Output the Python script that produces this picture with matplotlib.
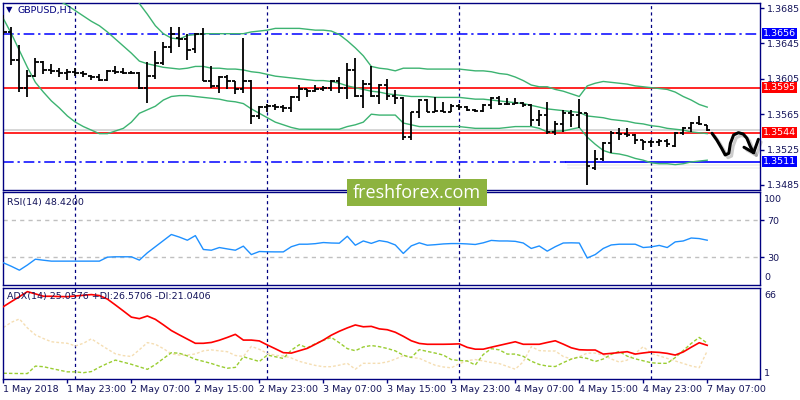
import numpy as np
import matplotlib
matplotlib.use('Agg')
import matplotlib.pyplot as plt
from matplotlib.patches import Rectangle
from matplotlib.transforms import blended_transform_factory
import matplotlib.patheffects as pe

plt.rcParams['font.family'] = ['DejaVu Sans']

# ---- GBPUSD H1, 1 May 15:00 .. 7 May 07:00 (one entry per hourly bar) ----
bar_open = [1.3660, 1.3658, 1.3626, 1.3595, 1.3608, 1.3624, 1.3615, 1.3614, 1.3612, 1.3613,
            1.3612, 1.3608, 1.3607, 1.3604, 1.3614, 1.3613, 1.3612, 1.3612, 1.3595, 1.3608,
            1.3623, 1.3641, 1.3651, 1.3650, 1.3639, 1.3656, 1.3603, 1.3597, 1.3607, 1.3602,
            1.3593, 1.3603, 1.3563, 1.3573, 1.3574, 1.3573, 1.3572, 1.3585, 1.3593, 1.3591,
            1.3594, 1.3595, 1.3602, 1.3595, 1.3615, 1.3586, 1.3599, 1.3586, 1.3598, 1.3586,
            1.3583, 1.3539, 1.3567, 1.3581, 1.3568, 1.3569, 1.3568, 1.3574, 1.3573, 1.3570,
            1.3569, 1.3575, 1.3583, 1.3576, 1.3577, 1.3578, 1.3575, 1.3558, 1.3564, 1.3545,
            1.3554, 1.3566, 1.3564, 1.3566, 1.3504, 1.3514, 1.3532, 1.3544, 1.3543, 1.3541,
            1.3536, 1.3533, 1.3534, 1.3535, 1.3529, 1.3544, 1.3549, 1.3555, 1.3553]
bar_high = [1.3677, 1.3664, 1.3643, 1.3615, 1.3628, 1.3625, 1.3622, 1.3617, 1.3616, 1.3617,
            1.3614, 1.3609, 1.3611, 1.3615, 1.3619, 1.3617, 1.3614, 1.3613, 1.3624, 1.3637,
            1.3647, 1.3664, 1.3664, 1.3656, 1.3657, 1.3663, 1.3619, 1.3608, 1.3609, 1.3603,
            1.3651, 1.3604, 1.3574, 1.3576, 1.3576, 1.3575, 1.3586, 1.3598, 1.3594, 1.3598,
            1.3597, 1.3604, 1.3607, 1.3623, 1.3628, 1.3604, 1.3619, 1.3599, 1.3605, 1.3592,
            1.3585, 1.3568, 1.3582, 1.3582, 1.3584, 1.3579, 1.3576, 1.3576, 1.3574, 1.3571,
            1.3576, 1.3585, 1.3586, 1.3583, 1.3583, 1.3579, 1.3576, 1.3570, 1.3579, 1.3557,
            1.3570, 1.3570, 1.3582, 1.3566, 1.3525, 1.3534, 1.3546, 1.3549, 1.3549, 1.3543,
            1.3536, 1.3536, 1.3537, 1.3537, 1.3545, 1.3550, 1.3556, 1.3563, 1.3553]
bar_low = [1.3654, 1.3621, 1.3590, 1.3585, 1.3607, 1.3610, 1.3610, 1.3607, 1.3604, 1.3608,
           1.3607, 1.3604, 1.3602, 1.3602, 1.3610, 1.3610, 1.3610, 1.3594, 1.3578, 1.3605,
           1.3621, 1.3634, 1.3641, 1.3626, 1.3634, 1.3602, 1.3595, 1.3589, 1.3593, 1.3588,
           1.3589, 1.3554, 1.3559, 1.3567, 1.3570, 1.3568, 1.3567, 1.3580, 1.3585, 1.3590,
           1.3591, 1.3591, 1.3589, 1.3582, 1.3585, 1.3572, 1.3585, 1.3576, 1.3581, 1.3576,
           1.3536, 1.3536, 1.3561, 1.3567, 1.3567, 1.3567, 1.3567, 1.3570, 1.3569, 1.3567,
           1.3567, 1.3571, 1.3575, 1.3575, 1.3576, 1.3573, 1.3552, 1.3552, 1.3543, 1.3541,
           1.3545, 1.3551, 1.3549, 1.3485, 1.3502, 1.3512, 1.3521, 1.3536, 1.3539, 1.3531,
           1.3524, 1.3528, 1.3529, 1.3528, 1.3528, 1.3541, 1.3545, 1.3553, 1.3546]
bar_close = [1.3658, 1.3626, 1.3595, 1.3608, 1.3624, 1.3615, 1.3614, 1.3612, 1.3613, 1.3612,
             1.3610, 1.3607, 1.3604, 1.3614, 1.3613, 1.3612, 1.3612, 1.3595, 1.3608, 1.3623,
             1.3641, 1.3656, 1.3650, 1.3638, 1.3656, 1.3603, 1.3597, 1.3607, 1.3602, 1.3594,
             1.3603, 1.3563, 1.3573, 1.3574, 1.3573, 1.3572, 1.3585, 1.3593, 1.3591, 1.3594,
             1.3595, 1.3602, 1.3595, 1.3615, 1.3586, 1.3599, 1.3586, 1.3598, 1.3586, 1.3583,
             1.3539, 1.3567, 1.3581, 1.3568, 1.3569, 1.3568, 1.3574, 1.3573, 1.3570, 1.3569,
             1.3575, 1.3583, 1.3576, 1.3577, 1.3578, 1.3575, 1.3558, 1.3564, 1.3545, 1.3554,
             1.3566, 1.3564, 1.3566, 1.3506, 1.3514, 1.3532, 1.3544, 1.3543, 1.3541, 1.3536,
             1.3533, 1.3534, 1.3535, 1.3531, 1.3544, 1.3549, 1.3555, 1.3554, 1.3547]

bb_upper = [1.3795, 1.3800, 1.3807, 1.3816, 1.3821, 1.3820, 1.3818, 1.3814, 1.3811, 1.3808,
            1.3801, 1.3793, 1.3787, 1.3773, 1.3754, 1.3735, 1.3712, 1.3690, 1.3678, 1.3665,
            1.3656, 1.3651, 1.3650, 1.3654, 1.3655, 1.3656, 1.3656, 1.3656, 1.3656, 1.3656,
            1.3656, 1.3658, 1.3659, 1.3660, 1.3662, 1.3662, 1.3662, 1.3662, 1.3661, 1.3660,
            1.3660, 1.3659, 1.3655, 1.3648, 1.3640, 1.3631, 1.3619, 1.3617, 1.3616, 1.3614,
            1.3617, 1.3617, 1.3617, 1.3616, 1.3616, 1.3616, 1.3616, 1.3616, 1.3615, 1.3614,
            1.3614, 1.3613, 1.3611, 1.3610, 1.3607, 1.3603, 1.3598, 1.3596, 1.3596, 1.3593,
            1.3591, 1.3588, 1.3585, 1.3597, 1.3600, 1.3602, 1.3601, 1.3600, 1.3599, 1.3597,
            1.3596, 1.3595, 1.3594, 1.3593, 1.3590, 1.3585, 1.3581, 1.3576, 1.3573]
bb_mid = [1.3734, 1.3728, 1.3722, 1.3717, 1.3711, 1.3705, 1.3699, 1.3693, 1.3688, 1.3682,
          1.3676, 1.3670, 1.3665, 1.3658, 1.3650, 1.3642, 1.3634, 1.3625, 1.3622, 1.3620,
          1.3618, 1.3617, 1.3616, 1.3617, 1.3619, 1.3619, 1.3617, 1.3617, 1.3616, 1.3616,
          1.3615, 1.3613, 1.3612, 1.3610, 1.3608, 1.3607, 1.3606, 1.3605, 1.3604, 1.3603,
          1.3603, 1.3602, 1.3600, 1.3597, 1.3595, 1.3593, 1.3591, 1.3590, 1.3588, 1.3587,
          1.3586, 1.3585, 1.3585, 1.3585, 1.3584, 1.3584, 1.3584, 1.3584, 1.3583, 1.3582,
          1.3582, 1.3581, 1.3580, 1.3579, 1.3578, 1.3577, 1.3575, 1.3573, 1.3571, 1.3570,
          1.3569, 1.3568, 1.3567, 1.3563, 1.3562, 1.3561, 1.3559, 1.3558, 1.3557, 1.3555,
          1.3554, 1.3552, 1.3551, 1.3549, 1.3548, 1.3547, 1.3545, 1.3544, 1.3543]
bb_lower = [1.3673, 1.3656, 1.3637, 1.3618, 1.3601, 1.3590, 1.3580, 1.3572, 1.3563, 1.3556,
            1.3551, 1.3547, 1.3543, 1.3543, 1.3546, 1.3549, 1.3556, 1.3566, 1.3570, 1.3574,
            1.3581, 1.3585, 1.3586, 1.3586, 1.3585, 1.3584, 1.3583, 1.3582, 1.3580, 1.3579,
            1.3577, 1.3571, 1.3566, 1.3561, 1.3556, 1.3553, 1.3550, 1.3548, 1.3548, 1.3548,
            1.3548, 1.3548, 1.3548, 1.3551, 1.3553, 1.3556, 1.3565, 1.3564, 1.3564, 1.3564,
            1.3555, 1.3553, 1.3551, 1.3551, 1.3551, 1.3551, 1.3551, 1.3551, 1.3550, 1.3549,
            1.3549, 1.3549, 1.3549, 1.3550, 1.3551, 1.3551, 1.3551, 1.3549, 1.3545, 1.3546,
            1.3546, 1.3548, 1.3550, 1.3539, 1.3531, 1.3524, 1.3521, 1.3520, 1.3518, 1.3515,
            1.3513, 1.3510, 1.3509, 1.3509, 1.3508, 1.3509, 1.3511, 1.3512, 1.3513]

rsi = [24.0, 20.2, 16.0, 21.6, 27.9, 26.8, 25.8, 25.8, 25.8, 25.8,
       25.8, 25.8, 25.8, 30.1, 30.5, 30.5, 30.5, 26.9, 34.8, 41.4,
       48.0, 54.6, 51.8, 48.4, 53.4, 38.4, 37.6, 40.5, 39.0, 37.6,
       42.0, 32.9, 36.2, 35.9, 35.8, 35.8, 41.4, 44.1, 44.1, 44.7,
       45.9, 45.4, 45.2, 52.7, 43.0, 47.6, 45.0, 48.0, 46.6, 43.3,
       34.1, 42.3, 45.6, 43.0, 43.6, 44.4, 44.8, 44.8, 44.4, 43.8,
       45.6, 48.2, 47.6, 47.6, 47.2, 45.4, 39.5, 42.2, 36.6, 41.4,
       45.4, 45.6, 45.4, 29.2, 32.9, 39.5, 43.3, 44.1, 44.1, 44.1,
       40.5, 41.2, 42.8, 40.5, 46.6, 47.6, 50.8, 50.2, 48.42]

adx = [52.7, 56.3, 59.8, 63.4, 61.8, 60.1, 60.1, 59.9, 59.8, 60.3,
       60.8, 61.3, 60.6, 58.1, 53.9, 49.6, 45.2, 44.1, 46.0, 43.6,
       39.7, 35.6, 32.5, 29.5, 26.5, 26.5, 27.1, 28.7, 30.7, 32.9,
       28.8, 28.8, 28.2, 25.3, 22.6, 19.8, 19.5, 21.2, 22.9, 25.8,
       28.8, 32.3, 35.1, 37.5, 39.6, 38.3, 38.6, 36.8, 36.2, 34.4,
       31.5, 28.3, 26.4, 25.8, 25.8, 25.8, 25.9, 26.1, 23.6, 22.3,
       22.3, 23.7, 25.0, 26.3, 27.6, 25.8, 25.8, 25.8, 27.1, 28.3,
       25.9, 23.3, 21.9, 21.7, 21.7, 18.8, 19.3, 19.9, 20.5, 18.8,
       19.6, 20.3, 20.0, 19.3, 18.1, 20.3, 23.7, 26.9, 25.06]
plus_di = [5.1, 5.0, 4.9, 4.9, 10.2, 9.8, 8.5, 7.3, 6.1, 6.1,
           5.5, 6.3, 9.4, 12.1, 14.5, 13.0, 11.5, 9.7, 7.9, 11.3,
           15.6, 19.8, 19.4, 17.5, 15.1, 13.6, 12.1, 10.2, 8.7, 9.3,
           16.9, 15.2, 13.5, 18.1, 16.9, 15.7, 21.6, 25.5, 23.3, 26.2,
           28.6, 30.7, 26.9, 22.7, 21.2, 23.9, 24.9, 24.1, 22.8, 21.1,
           18.0, 16.4, 22.0, 20.7, 19.5, 18.1, 14.9, 14.2, 13.9, 11.0,
           18.5, 22.7, 21.8, 18.8, 18.8, 17.2, 13.7, 11.4, 10.2, 9.9,
           12.7, 15.2, 16.7, 15.7, 13.5, 15.3, 18.6, 20.7, 17.3, 15.4,
           14.0, 12.6, 12.2, 12.2, 16.3, 21.3, 26.4, 30.7, 26.57]
minus_di = [37.8, 41.5, 43.9, 37.5, 32.5, 29.9, 27.6, 27.0, 26.5, 24.6,
            26.5, 29.7, 26.0, 22.4, 19.0, 17.7, 17.1, 21.9, 27.0, 25.8,
            22.7, 19.0, 18.1, 18.1, 18.9, 21.1, 21.8, 21.1, 20.5, 17.8,
            17.1, 24.3, 22.2, 19.3, 17.9, 17.5, 16.0, 13.6, 12.1, 10.7,
            9.8, 9.8, 10.9, 12.2, 8.0, 12.2, 12.2, 12.2, 13.2, 15.2,
            17.7, 16.3, 15.8, 13.2, 10.8, 9.6, 9.0, 11.9, 14.1, 14.9,
            13.9, 12.8, 12.0, 10.0, 8.0, 13.3, 24.1, 21.3, 21.0, 21.0,
            17.1, 15.3, 16.9, 19.5, 19.5, 18.1, 15.3, 13.1, 14.5, 19.3,
            24.1, 19.3, 17.5, 15.7, 13.9, 12.1, 10.3, 9.1, 21.04]

time_labels = ['1 May 2018', '1 May 23:00', '2 May 07:00', '2 May 15:00', '2 May 23:00',
               '3 May 07:00', '3 May 15:00', '3 May 23:00', '4 May 07:00', '4 May 15:00',
               '4 May 23:00', '7 May 07:00']
day_starts = [9, 33, 57, 81]          # bar index of each 00:00
price_ticks = [1.3685, 1.3645, 1.3605, 1.3565, 1.3525, 1.3485]

bid = 1.3547
level_top = 1.3656
level_red = [1.3595, 1.3544]
level_bottom = 1.3511
bottom_line_start = 70.4              # trend line at 1.3511 turns solid here

# hand drawn forecast squiggle (bar index, price)
sketch_x = [88.6, 89.2, 89.8, 90.25, 90.7, 90.9, 91.3, 91.9, 92.5, 92.96, 93.4, 93.8]
sketch_y = [1.35434, 1.35358, 1.35265, 1.35189, 1.35208, 1.35321, 1.35415, 1.35441,
            1.35426, 1.35378, 1.35283, 1.35215]
head_x = [92.6, 93.8, 94.4]
head_y = [1.35276, 1.35215, 1.35366]

navy = '#000080'
txt = '#14145a'
fs = 6.8
W, H = 800, 400


def fpos(left, top, right, bottom):
    return [left / W, 1 - bottom / H, (right - left) / W, (bottom - top) / H]


fig = plt.figure(figsize=(8, 4), dpi=100)
ax = fig.add_axes(fpos(3, 3, 760, 190))
ax_rsi = fig.add_axes(fpos(3, 192.5, 760, 285))
ax_adx = fig.add_axes(fpos(3, 288, 760, 379))

x = np.arange(len(bar_open))
xlo, xhi = -0.05, 94.6

for a in (ax, ax_rsi, ax_adx):
    a.set_xlim(xlo, xhi)
    for s in a.spines.values():
        s.set_color(navy)
        s.set_linewidth(1.0)
    for d in day_starts:
        a.axvline(d, color=navy, lw=0.9, ls=(0, (2.5, 2.5)), zorder=1)
    a.tick_params(axis='x', bottom=False, labelbottom=False)

# ---- price panel ----
ax.set_ylim(1.34793, 1.36907)
ax.axhline(bid, color='#D0D0D0', lw=1.2, zorder=2)
ax.axhline(level_top, color='blue', lw=1.1, ls=(0, (7, 2.5, 1.5, 2.5)), zorder=2)
for lv in level_red:
    ax.axhline(lv, color='red', lw=1.2, zorder=2)
ax.plot([xlo, bottom_line_start], [level_bottom, level_bottom], color='blue', lw=1.1,
        ls=(0, (7, 2.5, 1.5, 2.5)), zorder=2)
ax.plot([bottom_line_start, xhi], [level_bottom, level_bottom], color='blue', lw=1.2, zorder=2,
        path_effects=[pe.SimpleLineShadow(offset=(1, -4), shadow_color='k', alpha=0.05),
                      pe.SimpleLineShadow(offset=(1, -2.5), shadow_color='k', alpha=0.07),
                      pe.Normal()])

for band in (bb_upper, bb_mid, bb_lower):
    ax.plot(x, band, color='#3CB371', lw=1.0, zorder=3)

ax.vlines(x, bar_low, bar_high, color='black', lw=1.3, zorder=5)
ax.hlines(bar_open, x - 0.4, x, color='black', lw=1.3, zorder=5)
ax.hlines(bar_close, x, x + 0.4, color='black', lw=1.3, zorder=5)

shadow = [pe.SimpleLineShadow(offset=(2, -2), shadow_color='k', alpha=0.2), pe.Normal()]
ax.plot(sketch_x, sketch_y, color='black', lw=2.2, solid_capstyle='round',
        solid_joinstyle='round', zorder=6, clip_on=False, path_effects=shadow)
ax.plot(head_x, head_y, color='black', lw=2.2, solid_capstyle='round',
        solid_joinstyle='round', zorder=6, clip_on=False, path_effects=shadow)

ax.yaxis.tick_right()
ax.set_yticks(price_ticks)
ax.set_yticklabels([f'{p:.4f}' for p in price_ticks])
ax.tick_params(axis='y', direction='out', length=3, width=1, color=navy,
               labelcolor=txt, labelsize=fs, pad=2)

tr = blended_transform_factory(fig.transFigure, ax.transData)
y0, y1 = ax.get_ylim()
box_h = (y1 - y0) / 187 * 11
for lv, col in [(level_top, '#0000FF'), (level_red[0], '#FF0000'),
                (level_red[1], '#FF0000'), (level_bottom, '#0000FF')]:
    ax.add_patch(Rectangle((762 / W, lv - box_h / 2), 35 / W, box_h, transform=tr,
                           facecolor=col, edgecolor='none', clip_on=False, zorder=10))
    ax.text(779.5 / W, lv, f'{lv:.4f}', transform=tr, color='white', fontsize=fs,
            ha='center', va='center', clip_on=False, zorder=11)

fig.text(6 / W, 1 - 10 / H, '\u25BC', fontsize=6, color=navy, va='center')
fig.text(18 / W, 1 - 10 / H, 'GBPUSD,H1', fontsize=fs, color=navy, va='center')

# ---- RSI panel ----
ax_rsi.set_ylim(0, 100)
ax_rsi.axhline(70, color='#C0C0C0', lw=1, ls=(0, (3, 3)), zorder=1)
ax_rsi.axhline(30, color='#C0C0C0', lw=1, ls=(0, (3, 3)), zorder=1)
ax_rsi.plot(x, rsi, color='#1E90FF', lw=1.0, zorder=3)
ax_rsi.yaxis.tick_right()
ax_rsi.set_yticks([70, 30])
ax_rsi.set_yticklabels(['70', '30'])
ax_rsi.tick_params(axis='y', direction='out', length=3, width=1, color=navy,
                   labelcolor=txt, labelsize=fs, pad=2)
fig.text(764 / W, 1 - 199 / H, '100', fontsize=fs, color=txt, va='center')
fig.text(764 / W, 1 - 278 / H, '0', fontsize=fs, color=txt, va='center')
fig.text(7 / W, 1 - 202 / H, 'RSI(14) 48.4200', fontsize=fs, color=txt, va='center')

# ---- ADX panel ----
ax_adx.set_ylim(1, 66)
ax_adx.plot(x, minus_di, color='#F5DEB3', lw=1.0, ls=(0, (2, 1.5)), zorder=2)
ax_adx.plot(x, plus_di, color='#9ACD32', lw=1.0, ls=(0, (2.5, 1.5)), zorder=2)
ax_adx.plot(x, adx, color='#FF0000', lw=1.2, zorder=3)
ax_adx.tick_params(axis='y', left=False, right=False, labelleft=False)
fig.text(764 / W, 1 - 295 / H, '66', fontsize=fs, color=txt, va='center')
fig.text(764 / W, 1 - 373 / H, '1', fontsize=fs, color=txt, va='center')
fig.text(7 / W, 1 - 297 / H, 'ADX(14) 25.0576 +DI:26.5706 -DI:21.0406',
         fontsize=fs, color=txt, va='center')

ax_adx.set_xticks(x[::8])
ax_adx.set_xticklabels(time_labels)
ax_adx.tick_params(axis='x', bottom=True, labelbottom=True, direction='out', length=3,
                   width=1, color=navy, labelcolor=txt, labelsize=fs, pad=1.5)
for lbl in ax_adx.get_xticklabels():
    lbl.set_ha('left')

# ---- watermark ----
fig.add_artist(Rectangle((347 / W, 1 - 206 / H), 140 / W, 27 / H, transform=fig.transFigure,
                         facecolor='#8DB33F', edgecolor='none', zorder=20))
fig.text(417 / W, 1 - 193 / H, 'freshforex.com', color='white', fontsize=13,
         family='Open Sans', ha='center', va='center', zorder=21)

fig.savefig('out.png', dpi=100, facecolor='white')
